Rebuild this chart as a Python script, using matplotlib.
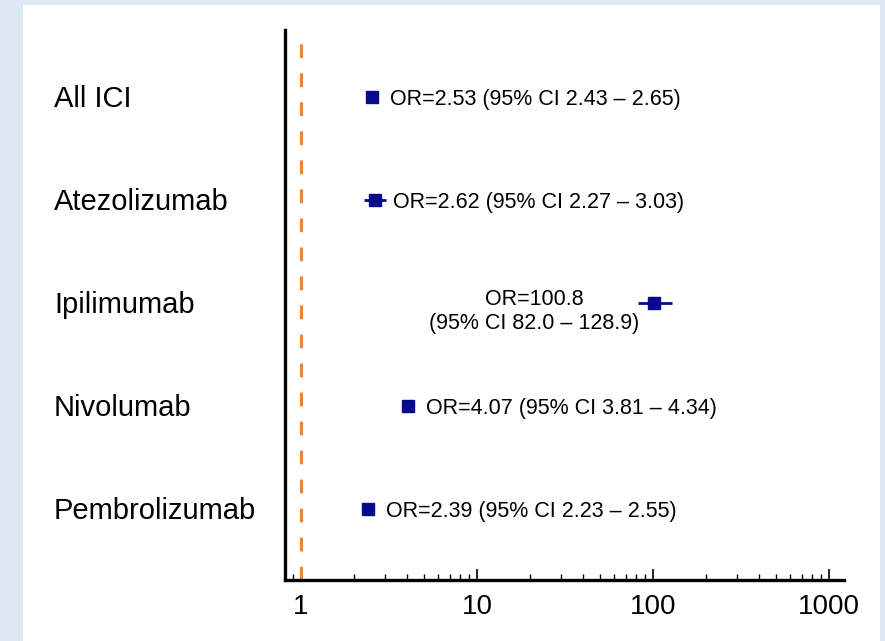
import matplotlib
matplotlib.use("Agg")
import matplotlib.pyplot as plt
import matplotlib.transforms as mtransforms
from matplotlib.patches import Rectangle
from matplotlib.ticker import LogLocator, FixedLocator, NullFormatter
import numpy as np

plt.rcParams['font.family'] = ['Liberation Sans', 'DejaVu Sans']

# données
drugs = ['All ICI', 'Atezolizumab', 'Ipilimumab', 'Nivolumab', 'Pembrolizumab']
odds = [2.53, 2.62, 100.8, 4.07, 2.39]
ci_low = [2.43, 2.27, 82.0, 3.81, 2.23]
ci_high = [2.65, 3.03, 128.9, 4.34, 2.55]
x_ticks = [1, 10, 100, 1000]

navy = '#0a0a8c'
orange = '#e8853a'

fig = plt.figure(figsize=(8.85, 6.41), dpi=100)
fig.patch.set_facecolor('#dde8f5')
fig.patches.append(Rectangle((23 / 885, 0), 857 / 885, 636 / 641,
                             transform=fig.transFigure, facecolor='white',
                             edgecolor='none', zorder=-10))

ax = fig.add_axes([285 / 885, 1 - 580 / 641, (844 - 285) / 885, (580 - 30) / 641])
ax.set_facecolor('none')

n = len(drugs)
ypos = np.arange(n, 0, -1)

odds_a = np.array(odds)
xerr = np.vstack([odds_a - np.array(ci_low), np.array(ci_high) - odds_a])
ax.errorbar(odds_a, ypos, xerr=xerr, fmt='s', color=navy, ecolor=navy,
            markersize=8, elinewidth=2, capsize=0, zorder=3)

ax.axvline(1, color=orange, linestyle=(0, (4.5, 5)), linewidth=2.2, zorder=2)

ax.set_xscale('log')
ax.set_xlim(0.811, 1216)
ax.set_ylim(0.31, 5.65)

# texte des OR
for i in range(n):
    if odds[i] >= 100:
        txt = f"OR={odds[i]:.1f}\n(95% CI {ci_low[i]:.1f} \u2013 {ci_high[i]:.1f})"
        ax.annotate(txt, (odds[i], ypos[i]), xytext=(-86, -6),
                    textcoords='offset points', ha='center', va='center',
                    fontsize=15.5)
    else:
        txt = f"OR={odds[i]:.2f} (95% CI {ci_low[i]:.2f} \u2013 {ci_high[i]:.2f})"
        ax.annotate(txt, (odds[i], ypos[i]), xytext=(13, -1.5),
                    textcoords='offset points', ha='left', va='center',
                    fontsize=15.5)

# noms des molécules
trans = mtransforms.blended_transform_factory(fig.transFigure, ax.transData)
for i in range(n):
    ax.annotate(drugs[i], (54 / 885, ypos[i]), xycoords=trans,
                xytext=(0, -1.5), textcoords='offset points',
                ha='left', va='center', fontsize=21)

for s in ['top', 'right']:
    ax.spines[s].set_visible(False)
for s in ['left', 'bottom']:
    ax.spines[s].set_linewidth(2.4)
ax.set_yticks([])

ax.xaxis.set_major_locator(FixedLocator(x_ticks))
ax.set_xticklabels([str(t) for t in x_ticks])
ax.xaxis.set_minor_locator(LogLocator(base=10, subs=np.arange(2, 10), numticks=20))
ax.xaxis.set_minor_formatter(NullFormatter())
ax.tick_params(axis='x', which='major', direction='in', length=8, width=1.2,
               labelsize=20, pad=10)
ax.tick_params(axis='x', which='minor', direction='in', length=4.5, width=1.0)

fig.savefig('out.png', dpi=100, facecolor=fig.get_facecolor())
